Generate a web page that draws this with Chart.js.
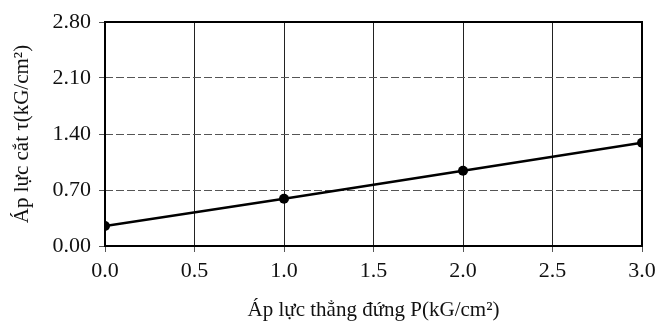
<!DOCTYPE html>
<html>
<head>
<meta charset="utf-8">
<script src="https://cdn.jsdelivr.net/npm/chart.js@4/dist/chart.umd.min.js"></script>
<style>
  html, body { margin: 0; padding: 0; background: #fff; }
  #wrap { width: 669px; height: 324px; }
</style>
</head>
<body>
<div id="wrap"><canvas id="c" width="669" height="324"></canvas></div>
<script>
// shear test: P (kG/cm2) vs tau (kG/cm2)
const pressureP = [0, 1, 2, 3];
const shearTau = [0.25, 0.59, 0.94, 1.29];
const xTickValues = [0, 0.5, 1, 1.5, 2, 2.5, 3];
const yTickValues = [0, 0.7, 1.4, 2.1, 2.8];

const serif = "'Liberation Serif', 'Times New Roman', serif";

// thick frame round the plot area
const frame = {
  id: "frame",
  afterDraw(chart) {
    const a = chart.chartArea, ctx = chart.ctx;
    ctx.save();
    ctx.strokeStyle = "#000";
    ctx.lineWidth = 2;
    ctx.strokeRect(a.left, a.top, a.right - a.left, a.bottom - a.top);
    ctx.restore();
  }
};

new Chart(document.getElementById("c"), {
  type: "line",
  data: {
    datasets: [{
      data: pressureP.map((p, i) => ({ x: p, y: shearTau[i] })),
      borderColor: "#000",
      backgroundColor: "#000",
      borderWidth: 2.5,
      pointRadius: 5,
      pointBackgroundColor: "#000",
      pointBorderWidth: 0,
      tension: 0
    }]
  },
  options: {
    responsive: false,
    animation: false,
    layout: { padding: { top: 22, right: 27, bottom: 0, left: 0 } },
    plugins: { legend: { display: false }, tooltip: { enabled: false } },
    scales: {
      x: {
        type: "linear",
        min: 0,
        max: 3,
        afterBuildTicks: s => { s.ticks = xTickValues.map(v => ({ value: v })); },
        afterFit: s => { s.height = 78; },
        ticks: {
          color: "#111",
          font: { family: serif, size: 22 },
          padding: 6,
          callback: v => Number(v).toFixed(1)
        },
        grid: { color: "#222", lineWidth: 1, tickLength: 6, tickColor: "#555" },
        border: { display: false },
        title: {
          display: true,
          text: "Áp lực thẳng đứng P(kG/cm²)",
          color: "#111",
          font: { family: serif, size: 21 },
          padding: { top: 0, bottom: 1 }
        }
      },
      y: {
        type: "linear",
        min: 0,
        max: 2.8,
        afterBuildTicks: s => { s.ticks = yTickValues.map(v => ({ value: v })); },
        afterFit: s => { s.width = 105; },
        ticks: {
          color: "#111",
          font: { family: serif, size: 22 },
          padding: 8,
          callback: v => Number(v).toFixed(2)
        },
        grid: { color: "#555", lineWidth: 1, tickLength: 6, tickColor: "#555" },
        border: { display: false, dash: [8, 3] },
        title: {
          display: true,
          text: "Áp lực cắt τ(kG/cm²)",
          color: "#111",
          font: { family: serif, size: 21 },
          padding: { top: 10, bottom: 0 }
        }
      }
    }
  },
  plugins: [frame]
});
</script>
</body>
</html>
